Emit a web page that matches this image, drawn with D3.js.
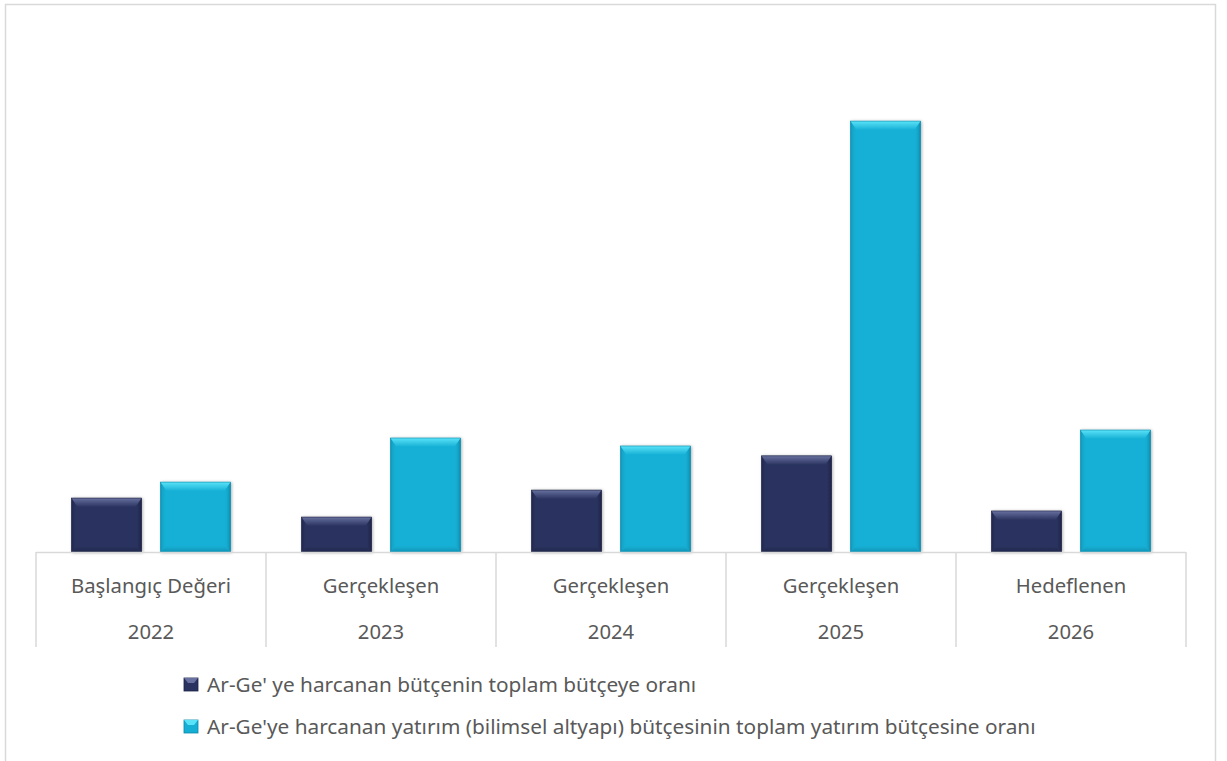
<!DOCTYPE html>
<html>
<head>
<meta charset="utf-8">
<script src="https://cdn.jsdelivr.net/npm/d3@7"></script>
<style>
  body { margin: 0; background: #fff; }
  text { font-family: "Noto Sans", "Open Sans", sans-serif; fill: #595959; }
</style>
</head>
<body>
<svg id="chart" width="1227" height="761"></svg>
<script>
// category labels (two levels) and series values
var stages = ["Başlangıç Değeri", "Gerçekleşen", "Gerçekleşen", "Gerçekleşen", "Hedeflenen"];
var years = ["2022", "2023", "2024", "2025", "2026"];
var seriesNames = ["Ar-Ge' ye harcanan bütçenin toplam bütçeye oranı",
                   "Ar-Ge'ye harcanan yatırım (bilimsel altyapı) bütçesinin toplam yatırım bütçesine oranı"];
var budgetShare = [1.42, 0.92, 1.63, 2.53, 1.08];
var investShare = [1.84, 3.0, 2.79, 11.34, 3.21];

var svg = d3.select("#chart");

// outer chart border
svg.append("rect").attr("x", 5.5).attr("y", 4.5).attr("width", 1210).attr("height", 800)
  .attr("fill", "#fff").attr("stroke", "#d9d9d9").attr("stroke-width", 1.5);

var x = d3.scaleBand().domain(years).range([36, 1186]);
var inner = d3.scaleBand().domain([0, 1]).range([0, x.bandwidth()]).paddingInner(0.2135).paddingOuter(0.399);
var y = d3.scaleLinear().domain([0, 14]).range([552, 20]);

var defs = svg.append("defs");
var palettes = [
  {main: "#2a335f", top: "#68719f", side: "#1b2244", bottom: "#20284c"},
  {main: "#15afd5", top: "#5ae3f8", side: "#0c88a8", bottom: "#0f96b8"}
];

palettes.forEach(function(p, i) {
  var gt = defs.append("linearGradient").attr("id", "top" + i).attr("x1", 0).attr("y1", 0).attr("x2", 0).attr("y2", 1);
  gt.append("stop").attr("offset", "0%").attr("stop-color", p.top);
  gt.append("stop").attr("offset", "100%").attr("stop-color", p.main);
  var gl = defs.append("linearGradient").attr("id", "left" + i).attr("x1", 0).attr("y1", 0).attr("x2", 1).attr("y2", 0);
  gl.append("stop").attr("offset", "0%").attr("stop-color", p.side).attr("stop-opacity", 0.6);
  gl.append("stop").attr("offset", "100%").attr("stop-color", p.main).attr("stop-opacity", 0);
  var gr = defs.append("linearGradient").attr("id", "right" + i).attr("x1", 1).attr("y1", 0).attr("x2", 0).attr("y2", 0);
  gr.append("stop").attr("offset", "0%").attr("stop-color", p.side).attr("stop-opacity", 0.9);
  gr.append("stop").attr("offset", "100%").attr("stop-color", p.main).attr("stop-opacity", 0);
  var gb = defs.append("linearGradient").attr("id", "bot" + i).attr("x1", 0).attr("y1", 1).attr("x2", 0).attr("y2", 0);
  gb.append("stop").attr("offset", "0%").attr("stop-color", p.bottom);
  gb.append("stop").attr("offset", "100%").attr("stop-color", p.main);
});

// soft shadow
var f = defs.append("filter").attr("id", "shadow").attr("x", "-20%").attr("y", "-20%").attr("width", "140%").attr("height", "140%");
f.append("feDropShadow").attr("dx", 1).attr("dy", 0.5).attr("stdDeviation", 1.5).attr("flood-color", "#000").attr("flood-opacity", 0.3);

var data = [];
years.forEach(function(yr, i) {
  data.push({year: yr, s: 0, v: budgetShare[i]});
  data.push({year: yr, s: 1, v: investShare[i]});
});

var bars = svg.selectAll(".bar").data(data).enter().append("g")
  .attr("class", "bar")
  .attr("filter", "url(#shadow)");

bars.each(function(d) {
  var g = d3.select(this);
  var p = palettes[d.s];
  var x0 = x(d.year) + inner(d.s), w = inner.bandwidth();
  var y0 = y(d.v), y1 = y(0), h = y1 - y0;
  var bt = 9, bs = 6, bb = 6;
  g.append("rect").attr("x", x0).attr("y", y0).attr("width", w).attr("height", h).attr("fill", p.main);
  // side bevels
  g.append("polygon").attr("points", [[x0, y0], [x0 + bs, y0 + bt], [x0 + bs, y1 - bb], [x0, y1]].join(" "))
    .attr("fill", "url(#left" + d.s + ")");
  g.append("polygon").attr("points", [[x0 + w, y0], [x0 + w - bs, y0 + bt], [x0 + w - bs, y1 - bb], [x0 + w, y1]].join(" "))
    .attr("fill", "url(#right" + d.s + ")");
  // top bevel
  g.append("polygon").attr("points", [[x0, y0], [x0 + w, y0], [x0 + w - bs, y0 + bt], [x0 + bs, y0 + bt]].join(" "))
    .attr("fill", "url(#top" + d.s + ")");
  // bottom bevel
  g.append("polygon").attr("points", [[x0, y1], [x0 + bs, y1 - bb], [x0 + w - bs, y1 - bb], [x0 + w, y1]].join(" "))
    .attr("fill", "url(#bot" + d.s + ")");
  g.append("rect").attr("x", x0).attr("y", y0).attr("width", w).attr("height", h)
    .attr("fill", "none").attr("stroke", p.side).attr("stroke-width", 0.6);
});

// category axis (multi-level)
var axisColor = "#d9d9d9";
svg.append("line").attr("x1", 36).attr("x2", 1186).attr("y1", 552.5).attr("y2", 552.5)
  .attr("stroke", axisColor).attr("stroke-width", 1.5);
var ticks = years.map(function(yr) { return x(yr); }).concat([x.range()[1]]);
svg.selectAll(".tick").data(ticks).enter().append("line")
  .attr("x1", function(d) { return d; }).attr("x2", function(d) { return d; })
  .attr("y1", 552).attr("y2", 647)
  .attr("stroke", axisColor).attr("stroke-width", 1.5);

svg.selectAll(".stage").data(stages).enter().append("text")
  .attr("x", function(d, i) { return x(years[i]) + x.bandwidth() / 2; })
  .attr("y", 593)
  .attr("text-anchor", "middle").attr("font-size", 20.3)
  .text(function(d) { return d; });

svg.selectAll(".year").data(years).enter().append("text")
  .attr("x", function(d) { return x(d) + x.bandwidth() / 2; })
  .attr("y", 639)
  .attr("text-anchor", "middle").attr("font-size", 20.3)
  .text(function(d) { return d; });

// legend
var legend = svg.selectAll(".legend").data(seriesNames).enter().append("g")
  .attr("transform", function(d, i) { return "translate(184," + (678 + i * 42) + ")"; });
legend.append("rect").attr("width", 14).attr("height", 13)
  .attr("fill", function(d, i) { return palettes[i].main; })
  .attr("stroke", function(d, i) { return palettes[i].side; }).attr("stroke-width", 0.8);
legend.append("polygon").attr("points", "0,0 14,0 10,5 4,5")
  .attr("fill", function(d, i) { return palettes[i].top; });
legend.append("text").attr("x", 23).attr("y", 14).attr("font-size", 20.8)
  .text(function(d) { return d; });
</script>
</body>
</html>
